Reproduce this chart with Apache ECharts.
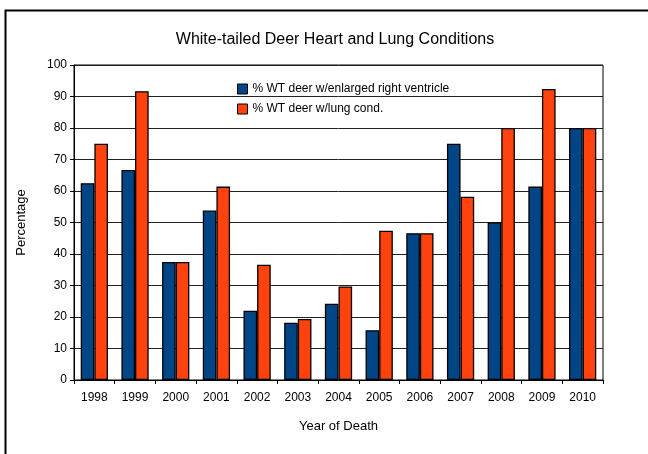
<!DOCTYPE html>
<html>
<head>
    <meta charset="utf-8">
    <title>White-tailed Deer Heart and Lung Conditions</title>
    <script src="https://cdn.jsdelivr.net/npm/echarts@6/dist/echarts.min.js"></script>
    <style>
        html, body { margin: 0; padding: 0; background: #fff; }
        #main { width: 648px; height: 454px; }
    </style>
</head>
<body>
<div id="main"></div>
<script>
    // data
    var years = ['1998', '1999', '2000', '2001', '2002', '2003', '2004', '2005', '2006', '2007', '2008', '2009', '2010'];
    var ventricle = [62.5, 66.7, 37.5, 53.8, 22.0, 18.2, 24.2, 15.8, 46.6, 75.0, 50.0, 61.4, 80.0];
    var lung = [75.0, 91.7, 37.5, 61.4, 36.6, 19.4, 29.7, 47.4, 46.6, 58.2, 80.0, 92.4, 80.0];
    var yTicks = [0, 10, 20, 30, 40, 50, 60, 70, 80, 90, 100];

    var font = 'Liberation Sans, Arial, sans-serif';
    var myChart = echarts.init(document.getElementById('main'));

    var option = {
        backgroundColor: '#fff',
        animation: false,
        textStyle: { fontFamily: font },
        title: {
            text: 'White-tailed Deer Heart and Lung Conditions',
            left: 330,
            textAlign: 'center',
            top: 27,
            textStyle: { fontFamily: font, fontSize: 16, fontWeight: 'normal', color: '#000' }
        },
        legend: {
            orient: 'vertical',
            left: 232,
            top: 78,
            itemWidth: 10,
            itemHeight: 10,
            itemGap: 8,
            icon: 'rect',
            textStyle: { fontFamily: font, fontSize: 12, color: '#000' },
            itemStyle: { borderColor: '#000', borderWidth: 1 }
        },
        grid: {
            left: 74,
            right: 45,
            top: 65,
            bottom: 74,
            show: true,
            borderColor: '#000',
            borderWidth: 1
        },
        xAxis: {
            type: 'category',
            data: years,
            name: 'Year of Death',
            nameLocation: 'middle',
            nameGap: 40,
            nameTextStyle: { fontFamily: font, fontSize: 13, color: '#000' },
            axisLine: { lineStyle: { color: '#000', width: 1 } },
            axisTick: { show: true, length: 4, lineStyle: { color: '#000' } },
            axisLabel: { fontFamily: font, fontSize: 12, color: '#000', margin: 12 }
        },
        yAxis: {
            type: 'value',
            min: yTicks[0],
            max: yTicks[yTicks.length - 1],
            interval: 10,
            name: 'Percentage',
            nameLocation: 'middle',
            nameGap: 46,
            nameTextStyle: { fontFamily: font, fontSize: 13, color: '#000' },
            axisLine: { show: true, lineStyle: { color: '#000', width: 1 } },
            axisTick: { show: true, length: 4, lineStyle: { color: '#000' } },
            axisLabel: { fontFamily: font, fontSize: 12, color: '#000', margin: 7 },
            splitLine: { show: true, lineStyle: { color: '#222', width: 1 } }
        },
        series: [
            {
                name: '% WT deer w/enlarged right ventricle',
                type: 'bar',
                data: ventricle,
                barGap: '0%',
                barCategoryGap: '33%',
                itemStyle: { color: '#004586', borderColor: '#000', borderWidth: 1.3 }
            },
            {
                name: '% WT deer w/lung cond.',
                type: 'bar',
                data: lung,
                itemStyle: { color: '#ff420e', borderColor: '#000', borderWidth: 1.3 }
            }
        ],
        graphic: [
            {
                type: 'polyline',
                shape: { points: [[5.5, 454], [5.5, 10.5], [648, 10.5]] },
                style: { stroke: '#000', lineWidth: 2, fill: null }
            }
        ]
    };

    myChart.setOption(option);
</script>
</body>
</html>
